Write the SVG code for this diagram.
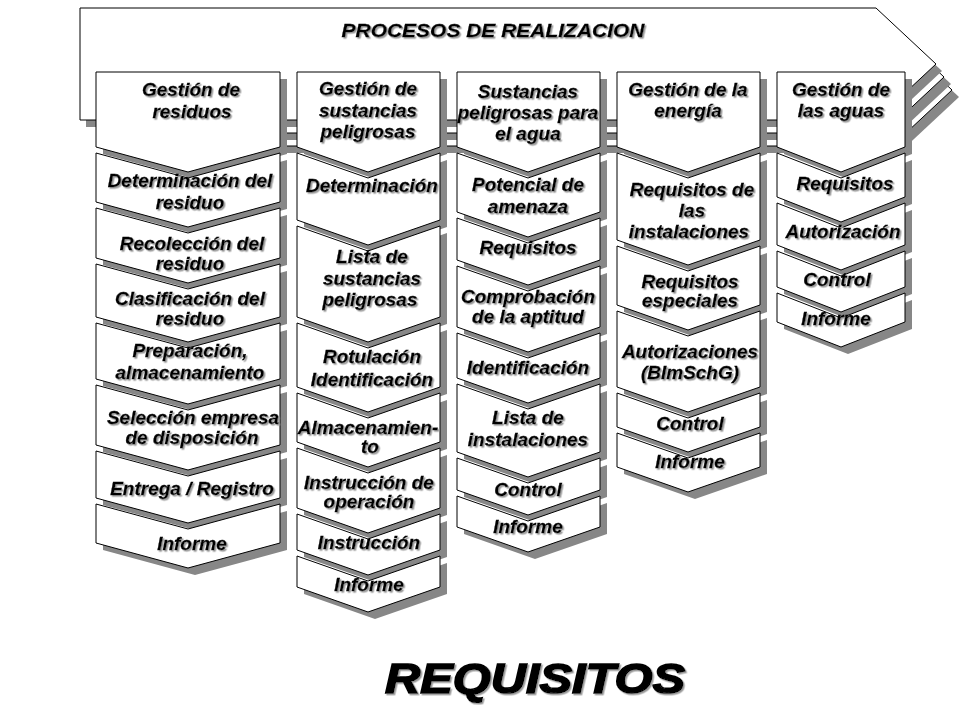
<svg xmlns="http://www.w3.org/2000/svg" width="960" height="720" viewBox="0 0 960 720">
<defs>
<filter id="ts" x="-10%" y="-30%" width="120%" height="160%">
<feDropShadow dx="1.5" dy="1.5" stdDeviation="0.4" flood-color="#9a9a9a" flood-opacity="1"/>
</filter>
<style>
.blk{fill:#fff;stroke:#000;stroke-width:1}
.sh{fill:#878787}
.t{font-family:"Liberation Sans",Arial,sans-serif;font-weight:bold;font-style:italic;font-size:19px;text-anchor:middle;fill:#000;stroke:#000;stroke-width:0.3;filter:url(#ts)}
</style>
</defs>
<rect width="960" height="720" fill="#fff"/>

<g id="banner">
<polygon class="sh" transform="translate(23,33)" points="80,8 876,8 936,64 876,120 80,120"/>
<polygon class="blk" transform="translate(16,26)" points="80,8 876,8 936,64 876,120 80,120"/>
<polygon class="sh" transform="translate(15,20)" points="80,8 876,8 936,64 876,120 80,120"/>
<polygon class="blk" transform="translate(8,13)" points="80,8 876,8 936,64 876,120 80,120"/>
<polygon class="sh" transform="translate(6,7)" points="80,8 876,8 936,64 876,120 80,120"/>
<rect x="80" y="120" width="16" height="40" fill="#fff"/>
<polygon class="sh" points="86,120 96,120 96,127 86,127"/>
<polygon class="blk" points="80,8 876,8 936,64 876,120 80,120"/>
<text class="t" x="493" y="37" textLength="303" lengthAdjust="spacingAndGlyphs" style="font-size:19px">PROCESOS  DE REALIZACION</text>
</g>

<!-- Column 1 -->
<g id="c1-h"><polygon class="sh" transform="translate(7,7)" points="96,72 280,72 280,147 188,172 96,147"/><polygon class="blk" points="96,72 280,72 280,147 188,172 96,147"/><text class="t" x="191" y="96">Gestión de</text><text class="t" x="192" y="118">residuos</text></g>
<g id="c1-b1"><polygon class="sh" transform="translate(7,7)" points="96,153 188,178 280,153 280,202 188,227 96,202"/><polygon class="blk" points="96,153 188,178 280,153 280,202 188,227 96,202"/><text class="t" x="190" y="187">Determinación del</text><text class="t" x="190" y="209">residuo</text></g>
<g id="c1-b2"><polygon class="sh" transform="translate(7,7)" points="96,208 188,233 280,208 280,258 188,283 96,258"/><polygon class="blk" points="96,208 188,233 280,208 280,258 188,283 96,258"/><text class="t" x="192" y="250">Recolección del</text><text class="t" x="190" y="270">residuo</text></g>
<g id="c1-b3"><polygon class="sh" transform="translate(7,7)" points="96,264 188,289 280,264 280,317 188,342 96,317"/><polygon class="blk" points="96,264 188,289 280,264 280,317 188,342 96,317"/><text class="t" x="190" y="305">Clasificación del</text><text class="t" x="190" y="325">residuo</text></g>
<g id="c1-b4"><polygon class="sh" transform="translate(7,7)" points="96,323 188,348 280,323 280,379 188,404 96,379"/><polygon class="blk" points="96,323 188,348 280,323 280,379 188,404 96,379"/><text class="t" x="190" y="357">Preparación,</text><text class="t" x="190" y="379">almacenamiento</text></g>
<g id="c1-b5"><polygon class="sh" transform="translate(7,7)" points="96,385 188,410 280,385 280,445 188,470 96,445"/><polygon class="blk" points="96,385 188,410 280,385 280,445 188,470 96,445"/><text class="t" x="193" y="424">Selección empresa</text><text class="t" x="192" y="444">de disposición</text></g>
<g id="c1-b6"><polygon class="sh" transform="translate(7,7)" points="96,451 188,476 280,451 280,498 188,523 96,498"/><polygon class="blk" points="96,451 188,476 280,451 280,498 188,523 96,498"/><text class="t" x="192" y="495">Entrega / Registro</text></g>
<g id="c1-b7"><polygon class="sh" transform="translate(7,7)" points="96,504 188,529 280,504 280,543 188,568 96,543"/><polygon class="blk" points="96,504 188,529 280,504 280,543 188,568 96,543"/><text class="t" x="192" y="550">Informe</text></g>

<!-- Column 2 -->
<g id="c2-h"><polygon class="sh" transform="translate(7,7)" points="297,72 440,72 440,147 368,172 297,147"/><polygon class="blk" points="297,72 440,72 440,147 368,172 297,147"/><text class="t" x="368" y="95">Gestión de</text><text class="t" x="368" y="117">sustancias</text><text class="t" x="368" y="138">peligrosas</text></g>
<g id="c2-b1"><polygon class="sh" transform="translate(7,7)" points="297,153 368,178 440,153 440,220 368,245 297,220"/><polygon class="blk" points="297,153 368,178 440,153 440,220 368,245 297,220"/><text class="t" x="372" y="192">Determinación</text></g>
<g id="c2-b2"><polygon class="sh" transform="translate(7,7)" points="297,226 368,251 440,226 440,317 368,342 297,317"/><polygon class="blk" points="297,226 368,251 440,226 440,317 368,342 297,317"/><text class="t" x="372" y="263">Lista de</text><text class="t" x="372" y="285">sustancias</text><text class="t" x="370" y="306">peligrosas</text></g>
<g id="c2-b3"><polygon class="sh" transform="translate(7,7)" points="297,323 368,348 440,323 440,387 368,412 297,387"/><polygon class="blk" points="297,323 368,348 440,323 440,387 368,412 297,387"/><text class="t" x="372" y="363">Rotulación</text><text class="t" x="372" y="386">Identificación</text></g>
<g id="c2-b4"><polygon class="sh" transform="translate(7,7)" points="297,393 368,418 440,393 440,442 368,467 297,442"/><polygon class="blk" points="297,393 368,418 440,393 440,442 368,467 297,442"/><text class="t" x="368" y="434">Almacenamien-</text><text class="t" x="370" y="453">to</text></g>
<g id="c2-b5"><polygon class="sh" transform="translate(7,7)" points="297,448 368,473 440,448 440,508 368,533 297,508"/><polygon class="blk" points="297,448 368,473 440,448 440,508 368,533 297,508"/><text class="t" x="369" y="489">Instrucción de</text><text class="t" x="369" y="508">operación</text></g>
<g id="c2-b6"><polygon class="sh" transform="translate(7,7)" points="297,514 368,539 440,514 440,550 368,575 297,550"/><polygon class="blk" points="297,514 368,539 440,514 440,550 368,575 297,550"/><text class="t" x="369" y="549">Instrucción</text></g>
<g id="c2-b7"><polygon class="sh" transform="translate(7,7)" points="297,556 368,581 440,556 440,587 368,612 297,587"/><polygon class="blk" points="297,556 368,581 440,556 440,587 368,612 297,587"/><text class="t" x="369" y="591">Informe</text></g>

<!-- Column 3 -->
<g id="c3-h"><polygon class="sh" transform="translate(7,7)" points="457,72 600,72 600,147 528,172 457,147"/><polygon class="blk" points="457,72 600,72 600,147 528,172 457,147"/><text class="t" x="528" y="98">Sustancias</text><text class="t" x="528" y="119">peligrosas para</text><text class="t" x="528" y="140">el agua</text></g>
<g id="c3-b1"><polygon class="sh" transform="translate(7,7)" points="457,153 528,178 600,153 600,212 528,237 457,212"/><polygon class="blk" points="457,153 528,178 600,153 600,212 528,237 457,212"/><text class="t" x="528" y="191">Potencial de</text><text class="t" x="528" y="213">amenaza</text></g>
<g id="c3-b2"><polygon class="sh" transform="translate(7,7)" points="457,218 528,243 600,218 600,260 528,285 457,260"/><polygon class="blk" points="457,218 528,243 600,218 600,260 528,285 457,260"/><text class="t" x="528" y="254">Requisitos</text></g>
<g id="c3-b3"><polygon class="sh" transform="translate(7,7)" points="457,266 528,291 600,266 600,327 528,352 457,327"/><polygon class="blk" points="457,266 528,291 600,266 600,327 528,352 457,327"/><text class="t" x="528" y="303">Comprobación</text><text class="t" x="528" y="323">de la aptitud</text></g>
<g id="c3-b4"><polygon class="sh" transform="translate(7,7)" points="457,333 528,358 600,333 600,378 528,403 457,378"/><polygon class="blk" points="457,333 528,358 600,333 600,378 528,403 457,378"/><text class="t" x="528" y="374">Identificación</text></g>
<g id="c3-b5"><polygon class="sh" transform="translate(7,7)" points="457,384 528,409 600,384 600,452 528,477 457,452"/><polygon class="blk" points="457,384 528,409 600,384 600,452 528,477 457,452"/><text class="t" x="528" y="424">Lista de</text><text class="t" x="528" y="446">instalaciones</text></g>
<g id="c3-b6"><polygon class="sh" transform="translate(7,7)" points="457,458 528,483 600,458 600,490 528,515 457,490"/><polygon class="blk" points="457,458 528,483 600,458 600,490 528,515 457,490"/><text class="t" x="528" y="496">Control</text></g>
<g id="c3-b7"><polygon class="sh" transform="translate(7,7)" points="457,496 528,521 600,496 600,527 528,552 457,527"/><polygon class="blk" points="457,496 528,521 600,496 600,527 528,552 457,527"/><text class="t" x="528" y="533">Informe</text></g>

<!-- Column 4 -->
<g id="c4-h"><polygon class="sh" transform="translate(7,7)" points="617,72 760,72 760,147 688,172 617,147"/><polygon class="blk" points="617,72 760,72 760,147 688,172 617,147"/><text class="t" x="688" y="96">Gestión de la</text><text class="t" x="688" y="117">energía</text></g>
<g id="c4-b1"><polygon class="sh" transform="translate(7,7)" points="617,153 688,178 760,153 760,240 688,265 617,240"/><polygon class="blk" points="617,153 688,178 760,153 760,240 688,265 617,240"/><text class="t" x="692" y="196">Requisitos de</text><text class="t" x="692" y="217">las</text><text class="t" x="689" y="238">instalaciones</text></g>
<g id="c4-b2"><polygon class="sh" transform="translate(7,7)" points="617,246 688,271 760,246 760,305 688,330 617,305"/><polygon class="blk" points="617,246 688,271 760,246 760,305 688,330 617,305"/><text class="t" x="690" y="288">Requisitos</text><text class="t" x="690" y="307">especiales</text></g>
<g id="c4-b3"><polygon class="sh" transform="translate(7,7)" points="617,311 688,336 760,311 760,387 688,412 617,387"/><polygon class="blk" points="617,311 688,336 760,311 760,387 688,412 617,387"/><text class="t" x="690" y="358">Autorizaciones</text><text class="t" x="690" y="379">(BImSchG)</text></g>
<g id="c4-b4"><polygon class="sh" transform="translate(7,7)" points="617,393 688,418 760,393 760,427 688,452 617,427"/><polygon class="blk" points="617,393 688,418 760,393 760,427 688,452 617,427"/><text class="t" x="690" y="430">Control</text></g>
<g id="c4-b5"><polygon class="sh" transform="translate(7,7)" points="617,433 688,458 760,433 760,467 688,492 617,467"/><polygon class="blk" points="617,433 688,458 760,433 760,467 688,492 617,467"/><text class="t" x="690" y="468">Informe</text></g>

<!-- Column 5 -->
<g id="c5-h"><polygon class="sh" transform="translate(7,7)" points="777,72 905,72 905,147 841,172 777,147"/><polygon class="blk" points="777,72 905,72 905,147 841,172 777,147"/><text class="t" x="841" y="96">Gestión de</text><text class="t" x="841" y="117">las aguas</text></g>
<g id="c5-b1"><polygon class="sh" transform="translate(7,7)" points="777,153 841,178 905,153 905,197 841,222 777,197"/><polygon class="blk" points="777,153 841,178 905,153 905,197 841,222 777,197"/><text class="t" x="845" y="190">Requisitos</text></g>
<g id="c5-b2"><polygon class="sh" transform="translate(7,7)" points="777,203 841,228 905,203 905,245 841,270 777,245"/><polygon class="blk" points="777,203 841,228 905,203 905,245 841,270 777,245"/><text class="t" x="843" y="238">Autorización</text></g>
<g id="c5-b3"><polygon class="sh" transform="translate(7,7)" points="777,251 841,276 905,251 905,287 841,312 777,287"/><polygon class="blk" points="777,251 841,276 905,251 905,287 841,312 777,287"/><text class="t" x="837" y="286">Control</text></g>
<g id="c5-b4"><polygon class="sh" transform="translate(7,7)" points="777,293 841,318 905,293 905,322 841,347 777,322"/><polygon class="blk" points="777,293 841,318 905,293 905,322 841,347 777,322"/><text class="t" x="836" y="325">Informe</text></g>

<g id="requisitos">
<text x="535" y="693" textLength="300" lengthAdjust="spacingAndGlyphs" style="font-family:'Liberation Sans',Arial,sans-serif;font-weight:bold;font-style:italic;font-size:42px;text-anchor:middle;fill:#000;stroke:#000;stroke-width:1.6;filter:url(#ts)">REQUISITOS</text>
</g>
</svg>
